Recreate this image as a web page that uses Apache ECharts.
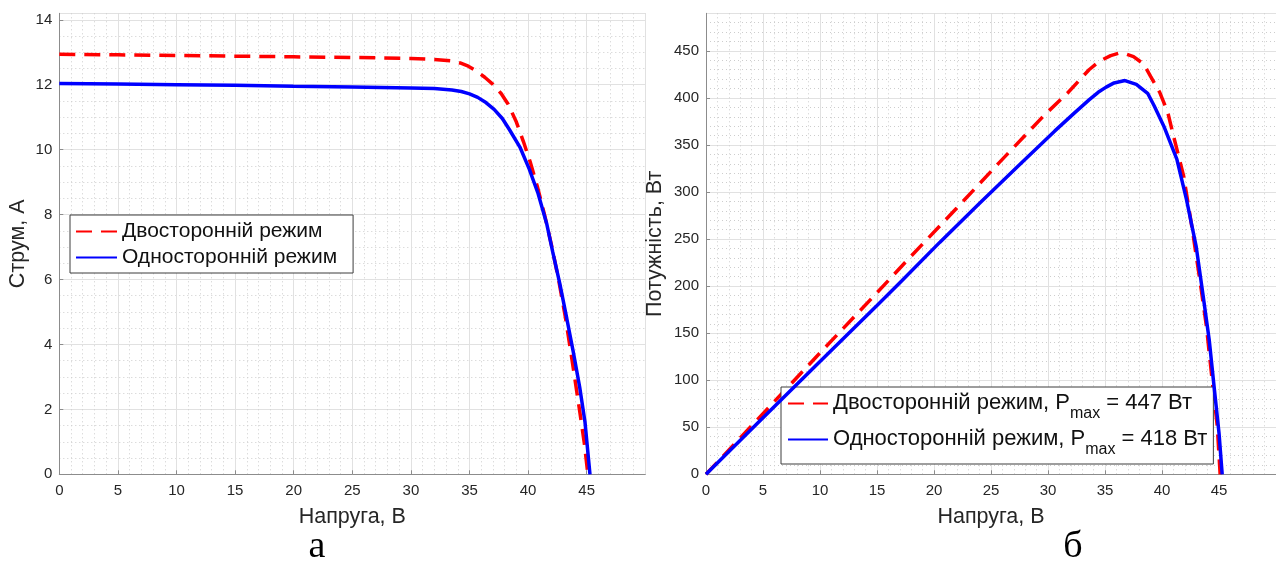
<!DOCTYPE html>
<html><head><meta charset="utf-8">
<script src="https://cdn.jsdelivr.net/npm/echarts@6/dist/echarts.min.js"></script>
<style>html,body{margin:0;padding:0;background:#fff}#c{width:1276px;height:563px}</style>
</head><body><div id="c"></div>
<script>
// ---- labels ----
const seriesNames = ['Двосторонній режим', 'Односторонній режим'];
const pmaxValues = [447, 418];
const xAxisTitle = 'Напруга, В';
const yTitleLeft = 'Струм, А';
const yTitleRight = 'Потужність, Вт';
const captions = ['а', 'б'];

// ---- I-V curves (left) ----
const ivBiV  = [0, 5, 10, 15, 20, 25, 30, 32, 33.5, 34.2, 34.9, 35.6, 36.3, 37.0, 37.7, 38.3, 39.0, 39.6, 40.2, 40.8, 41.4, 42.0, 42.6, 43.2, 43.8, 44.4, 44.8, 45.1];
const ivBiI  = [12.94, 12.92, 12.90, 12.88, 12.86, 12.84, 12.81, 12.78, 12.73, 12.67, 12.57, 12.42, 12.23, 12.01, 11.73, 11.40, 10.85, 10.25, 9.60, 8.85, 8.00, 7.05, 6.00, 4.80, 3.40, 1.95, 0.95, 0.0];
const ivMonoV = [0, 5, 10, 15, 20, 25, 30, 32, 33.5, 34.3, 35.0, 35.7, 36.4, 37.1, 37.8, 38.4, 39.3, 40.1, 40.85, 41.6, 42.1, 42.7, 43.3, 43.85, 44.4, 44.85, 45.28];
const ivMonoI = [12.04, 12.02, 12.00, 11.98, 11.95, 11.93, 11.90, 11.88, 11.84, 11.79, 11.72, 11.61, 11.45, 11.24, 10.96, 10.62, 10.08, 9.40, 8.65, 7.70, 6.85, 5.88, 4.80, 3.78, 2.69, 1.62, 0.0];

// ---- P-V curves (right) ----
const pvBiV  = [0, 5, 10, 15, 18, 22, 25.7, 29.7, 31.7, 33.6, 34.5, 35.5, 36.2, 36.8, 37.5, 38.4, 39.0, 39.8, 40.5, 41.0, 41.9, 42.7, 43.4, 43.9, 44.4, 44.85, 45.1];
const pvBiP  = [0, 64.5, 129, 193, 232, 283, 331, 382, 405, 430, 439, 445, 447.5, 447, 444, 436, 423, 406, 385, 360, 317, 257, 200, 157, 100, 51, 0];
const pvMonoV = [0, 5, 10, 15, 17.2, 20.5, 24, 27.5, 30.6, 32.4, 33.6, 34.4, 35.1, 35.8, 36.75, 37.75, 38.74, 39.3, 40.16, 41.3, 42.15, 43.0, 43.57, 44.14, 44.57, 45.0, 45.28];
const pvMonoP = [0, 60, 120, 179.5, 206, 246.5, 288, 329, 365, 385, 398, 406, 411.5, 416, 418.5, 414.5, 405, 392, 370, 335, 292, 242, 193, 143, 93, 44, 0];

const pvNames = seriesNames.map((n, i) => n + ', Pmax = ' + pmaxValues[i] + ' Вт');
const zip = (a, b) => a.map((v, i) => [v, b[i]]);

const FONT = '"Liberation Sans", Arial, Helvetica, sans-serif';
const AX = '#8c8c8c', TXT = '#262626';
const MAJOR = '#e1e1e1', MINOR = '#cdcdcd';

function minorAxis(dim, grid, max, interval) {
  return {
    gridIndex: grid, type: 'value', min: 0, max: max, interval: interval,
    position: dim === 'x' ? 'top' : 'right',
    axisLine: {show: false}, axisTick: {show: false}, axisLabel: {show: false},
    splitLine: {show: true, lineStyle: {color: MINOR, width: 1, type: [1, 3]}}
  };
}
function majorAxis(dim, grid, max, interval, name, nameGap) {
  return {
    gridIndex: grid, type: 'value', min: 0, max: max, interval: interval,
    position: dim === 'x' ? 'bottom' : 'left',
    axisLine: {show: true, onZero: false, lineStyle: {color: AX, width: 1}},
    axisTick: {show: true, inside: true, length: 4, lineStyle: {color: AX}},
    axisLabel: {show: true, margin: dim === 'x' ? 9 : 7, fontSize: 15, color: TXT, fontFamily: FONT, showMaxLabel: false},
    splitLine: {show: true, lineStyle: {color: MAJOR, width: 1}},
    name: name, nameLocation: 'middle', nameGap: nameGap,
    nameTextStyle: {fontSize: 21.5, color: TXT, fontFamily: FONT}
  };
}

const chart = echarts.init(document.getElementById('c'), null, {renderer: 'canvas'});
const option = {
  animation: false,
  backgroundColor: '#fff',
  grid: [
    {left: 59.3, top: 13.3, width: 586, height: 461},
    {left: 706, top: 13.3, width: 586, height: 461}
  ],
  xAxis: [
    minorAxis('x', 0, 50, 1),
    majorAxis('x', 0, 50, 5, xAxisTitle, 32),
    minorAxis('x', 1, 50, 1),
    majorAxis('x', 1, 50, 5, xAxisTitle, 32)
  ],
  yAxis: [
    minorAxis('y', 0, 14.2, 0.5),
    majorAxis('y', 0, 14.2, 2, yTitleLeft, 30),
    minorAxis('y', 1, 490, 10),
    majorAxis('y', 1, 490, 50, yTitleRight, 40)
  ],
  legend: [
    {
      left: 70, top: 215, orient: 'vertical', selectedMode: false,
      data: seriesNames.slice(),
      itemWidth: 41, itemHeight: 14, itemGap: 5,
      padding: [6, 16, 5, 5],
      borderColor: '#3c3c3c', borderWidth: 1, backgroundColor: '#fff',
      itemStyle: {opacity: 0},
      textStyle: {fontSize: 21, lineHeight: 21, color: '#111', fontFamily: FONT}
    },
    {
      left: 781, top: 387, orient: 'vertical', selectedMode: false,
      data: pvNames.slice(),
      itemWidth: 40, itemHeight: 14, itemGap: 6,
      padding: [5, 6, 6, 6],
      borderColor: '#3c3c3c', borderWidth: 1, backgroundColor: '#fff',
      itemStyle: {opacity: 0},
      formatter: function (name) {
        const i = pvNames.indexOf(name);
        return '{m|' + seriesNames[i] + ', P}{s|max}{m| = ' + pmaxValues[i] + ' Вт}';
      },
      textStyle: {
        color: '#111', fontFamily: FONT, fontSize: 22,
        rich: {
          m: {fontSize: 22, lineHeight: 23, verticalAlign: 'top', color: '#111', fontFamily: FONT},
          s: {fontSize: 16, lineHeight: 16, padding: [14, 0, 0, 0], verticalAlign: 'top', color: '#111', fontFamily: FONT}
        }
      }
    }
  ],
  graphic: [
    {type: 'text', x: 317, y: 547, style: {text: captions[0], font: '38px "Liberation Serif", "Times New Roman", serif', fill: '#000', align: 'center', verticalAlign: 'middle'}},
    {type: 'text', x: 1073, y: 547, style: {text: captions[1], font: '38px "Liberation Serif", "Times New Roman", serif', fill: '#000', align: 'center', verticalAlign: 'middle'}}
  ],
  series: [
    {type: 'line', name: seriesNames[0], xAxisIndex: 1, yAxisIndex: 1, data: zip(ivBiV, ivBiI),
     symbol: 'none', smooth: false, z: 3,
     lineStyle: {color: '#ff0000', width: 3.5, type: [16, 9]}, itemStyle: {color: '#ff0000'}},
    {type: 'line', name: seriesNames[1], xAxisIndex: 1, yAxisIndex: 1, data: zip(ivMonoV, ivMonoI),
     symbol: 'none', smooth: false, z: 4,
     lineStyle: {color: '#0000ff', width: 3.5, type: 'solid'}, itemStyle: {color: '#0000ff'}},
    {type: 'line', name: pvNames[0], xAxisIndex: 3, yAxisIndex: 3, data: zip(pvBiV, pvBiP),
     symbol: 'none', smooth: false, z: 3,
     lineStyle: {color: '#ff0000', width: 3.5, type: [16, 9]}, itemStyle: {color: '#ff0000'}},
    {type: 'line', name: pvNames[1], xAxisIndex: 3, yAxisIndex: 3, data: zip(pvMonoV, pvMonoP),
     symbol: 'none', smooth: false, z: 4,
     lineStyle: {color: '#0000ff', width: 3.5, type: 'solid'}, itemStyle: {color: '#0000ff'}}
  ]
};
chart.setOption(option);
</script>
</body></html>
